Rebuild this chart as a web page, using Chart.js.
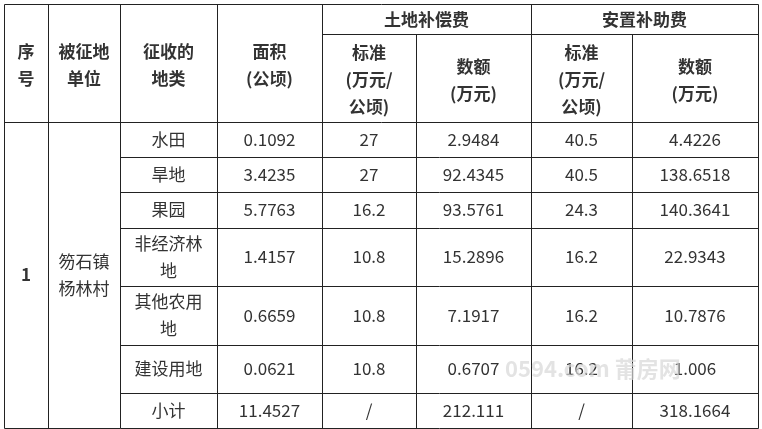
<!DOCTYPE html>
<html><head><meta charset="utf-8">
<script src="https://cdn.jsdelivr.net/npm/chart.js@4/dist/chart.umd.min.js"></script>
<style>html,body{margin:0;padding:0;background:#fff}#wrap{width:762px;height:429px}</style>
</head><body><div id="wrap"><canvas id="c"></canvas></div>
<script>
// data
const landTypes = ['水田', '旱地', '果园', '非经济林\n地', '其他农用\n地', '建设用地', '小计'];
const areas = ['0.1092', '3.4235', '5.7763', '1.4157', '0.6659', '0.0621', '11.4527'];
const landStd = ['27', '27', '16.2', '10.8', '10.8', '10.8', '/'];
const landAmt = ['2.9484', '92.4345', '93.5761', '15.2896', '7.1917', '0.6707', '212.111'];
const resStd = ['40.5', '40.5', '24.3', '16.2', '16.2', '16.2', '/'];
const resAmt = ['4.4226', '138.6518', '140.3641', '22.9343', '10.7876', '1.006', '318.1664'];
const headers = ['序\n号', '被征地\n单位', '征收的\n地类', '面积\n(公顷)'];
const groupHeaders = ['土地补偿费', '安置补助费'];
const subHeaders = ['标准\n(万元/\n公顷)', '数额\n(万元)', '标准\n(万元/\n公顷)', '数额\n(万元)'];
const seqNo = '1';
const unitName = '笏石镇\n杨林村';

// layout (pixel grid of the table)
const colX = [4, 48, 120, 217, 322, 416, 531, 632, 758];
const rowY = [122, 157, 192, 228, 286, 345, 393, 428];
const topY = 4, midY = 34;
const font = '"Noto Sans CJK SC", "Noto Sans", sans-serif';

const tablePlugin = {
  id: 'table',
  afterDraw(chart) {
    const ctx = chart.ctx, sx = chart.scales.x, sy = chart.scales.y;
    const X = v => sx.getPixelForValue(v), Y = v => sy.getPixelForValue(v);
    ctx.save();
    ctx.strokeStyle = '#222'; ctx.lineWidth = 1;
    const line = (x1, y1, x2, y2) => { ctx.beginPath(); ctx.moveTo(Math.round(X(x1)) + .5, Math.round(Y(y1)) + .5); ctx.lineTo(Math.round(X(x2)) + .5, Math.round(Y(y2)) + .5); ctx.stroke(); };
    const last = colX.length - 1, bottom = rowY[rowY.length - 1];
    line(colX[0], topY, colX[last], topY);
    line(colX[4], midY, colX[last], midY);
    line(colX[0], rowY[0], colX[last], rowY[0]);
    rowY.slice(1).forEach(y => line(colX[2], y, colX[last], y));
    line(colX[0], bottom, colX[2], bottom);
    colX.forEach((x, i) => {
      const y0 = (i === 5 || i === 7) ? midY : topY;
      line(x, y0, x, bottom);
    });
    const text = (s, cx, cy, bold) => {
      ctx.font = (bold ? 'bold ' : '') + '17px ' + font;
      ctx.fillStyle = '#333'; ctx.textAlign = 'center'; ctx.textBaseline = 'middle';
      const parts = s.split('\n'), lh = 27;
      parts.forEach((p, k) => ctx.fillText(p, X(cx), Y(cy) + (k - (parts.length - 1) / 2) * lh));
    };
    headers.forEach((h, i) => text(h, (colX[i] + colX[i + 1]) / 2, (topY + rowY[0]) / 2 + 2, true));
    groupHeaders.forEach((h, i) => text(h, (colX[4 + 2 * i] + colX[6 + 2 * i]) / 2, (topY + midY) / 2 + 1, true));
    subHeaders.forEach((h, i) => text(h, (colX[4 + i] + colX[5 + i]) / 2, (midY + rowY[0]) / 2 + 2, true));
    text(seqNo, (colX[0] + colX[1]) / 2, (rowY[0] + bottom) / 2, true);
    text(unitName, (colX[1] + colX[2]) / 2, (rowY[0] + bottom) / 2, false);
    const cols = [landTypes, areas, landStd, landAmt, resStd, resAmt];
    cols.forEach((arr, c) => arr.forEach((v, r) => text(v, (colX[2 + c] + colX[3 + c]) / 2, (rowY[r] + rowY[r + 1]) / 2, false)));
    // watermark
    ctx.font = 'bold 22px ' + font; ctx.fillStyle = 'rgba(215,215,215,0.7)'; ctx.textAlign = 'left';
    ctx.fillText('0594.com 莆房网', X(505), Y(369));
    ctx.restore();
  }
};

new Chart(document.getElementById('c'), {
  type: 'scatter',
  data: { datasets: [{ data: [], showLine: false }] },
  options: {
    responsive: true, maintainAspectRatio: false, animation: false,
    layout: { padding: 0 },
    plugins: { legend: { display: false }, tooltip: { enabled: false } },
    scales: {
      x: { type: 'linear', min: 0, max: 762, display: false },
      y: { type: 'linear', min: 0, max: 429, reverse: true, display: false }
    }
  },
  plugins: [tablePlugin]
});
</script></body></html>
